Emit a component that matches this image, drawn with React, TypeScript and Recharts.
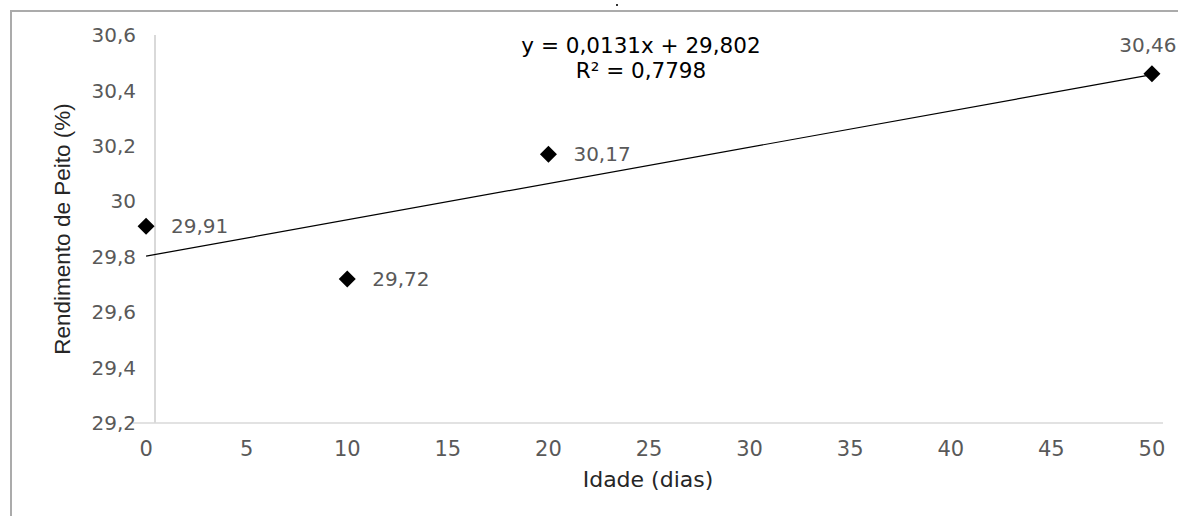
import React from 'react';
import { ScatterChart, Scatter, XAxis, YAxis, LabelList, Label } from 'recharts';

// ---- data ----
const ages = [0, 10, 20, 50];
const breastYield = [29.91, 29.72, 30.17, 30.46];
const trendAges = [0, 50];
const trendValues = [29.802, 30.457];
const xTicks = [0, 5, 10, 15, 20, 25, 30, 35, 40, 45, 50];
const yTicks = [29.2, 29.4, 29.6, 29.8, 30, 30.2, 30.4, 30.6];
const xDomain = [-0.65, 50.55];
const yDomain = [29.2, 30.6];
const equationLines = ['y = 0,0131x + 29,802', 'R² = 0,7798'];
const xTitle = 'Idade (dias)';
const yTitle = 'Rendimento de Peito (%)';

const points = ages.map((x, i) => ({ x, y: breastYield[i] }));
const trend = trendAges.map((x, i) => ({ x, y: trendValues[i] }));

const fmt = (v: number) => String(+Number(v).toFixed(2)).replace('.', ',');

const TICK_FONT = 'DejaVu Sans, sans-serif';
const GRAY = '#595959';

const Diamond = (props: any) => {
  const { cx, cy } = props;
  const r = 8.5;
  return <path d={`M${cx},${cy - r}L${cx + r},${cy}L${cx},${cy + r}L${cx - r},${cy}Z`} fill="#000" />;
};

const NoShape = () => <g />;

const renderPointLabel = (props: any) => {
  const vb = props.viewBox || props;
  const x = Number(props.x ?? vb.x);
  const y = Number(props.y ?? vb.y);
  const w = Number(props.width ?? vb.width ?? 0);
  const h = Number(props.height ?? vb.height ?? 0);
  const cx = x + w / 2;
  const cy = y + h / 2;
  const last = props.index === ages.length - 1;
  return (
    <text
      x={last ? cx - 4 : cx + 25}
      y={last ? cy - 22 : cy + 7}
      textAnchor={last ? 'middle' : 'start'}
      fill={GRAY}
      fontSize={20}
      fontFamily={TICK_FONT}
    >
      {fmt(props.value)}
    </text>
  );
};

export default function App() {
  return (
    <div style={{ position: 'absolute', left: 0, top: 0, width: 1178, height: 516, background: '#fff', overflow: 'hidden' }}>
      <div
        style={{
          position: 'absolute',
          left: 10,
          top: 10,
          width: 1168,
          height: 506,
          borderTop: '2px solid #ababab',
          borderLeft: '2px solid #ababab',
          boxSizing: 'border-box',
        }}
      />
      <div style={{ position: 'absolute', left: 616, top: 4, width: 2, height: 2, background: '#333' }} />
      <div style={{ position: 'absolute', left: 154, top: 35, width: 1.5, height: 388, background: '#d9d9d9' }} />
      <div style={{ position: 'absolute', left: 0, top: 0 }}>
        <ScatterChart width={1178} height={516} margin={{ top: 35, right: 15, left: 0, bottom: 0 }}>
          <XAxis
            dataKey="x"
            type="number"
            domain={xDomain}
            ticks={xTicks}
            allowDataOverflow
            height={93}
            axisLine={{ stroke: '#d9d9d9', strokeWidth: 1.5 }}
            tickLine={false}
            tickMargin={12}
            tick={{ fill: GRAY, fontSize: 21, fontFamily: TICK_FONT }}
          >
            <Label
              value={xTitle}
              position="insideBottom"
              offset={29}
              fill="#262626"
              fontSize={22}
              fontFamily={TICK_FONT}
            />
          </XAxis>
          <YAxis
            dataKey="y"
            type="number"
            domain={yDomain}
            ticks={yTicks}
            allowDataOverflow
            width={133}
            axisLine={false}
            tickLine={false}
            tickSize={0}
            tickMargin={-3}
            tickFormatter={fmt}
            tick={{ fill: GRAY, fontSize: 20, fontFamily: TICK_FONT }}
          >
            <Label
              value={yTitle}
              angle={-90}
              position="insideLeft"
              offset={62}
              fill="#262626"
              fontSize={22.5}
              fontFamily="Liberation Sans, Arial, sans-serif"
              style={{ textAnchor: 'middle' }}
            />
          </YAxis>
          <Scatter
            data={trend}
            line={{ stroke: '#000', strokeWidth: 1.2 }}
            shape={NoShape}
            isAnimationActive={false}
          />
          <Scatter data={points} shape={Diamond} isAnimationActive={false}>
            <LabelList dataKey="y" content={renderPointLabel} />
          </Scatter>
        </ScatterChart>
      </div>
      <div
        style={{
          position: 'absolute',
          left: 441,
          top: 33,
          width: 400,
          textAlign: 'center',
          fontFamily: TICK_FONT,
          fontSize: 21.5,
          lineHeight: '25px',
          color: '#000',
        }}
      >
        {equationLines.map((l) => (
          <div key={l}>{l}</div>
        ))}
      </div>
    </div>
  );
}
